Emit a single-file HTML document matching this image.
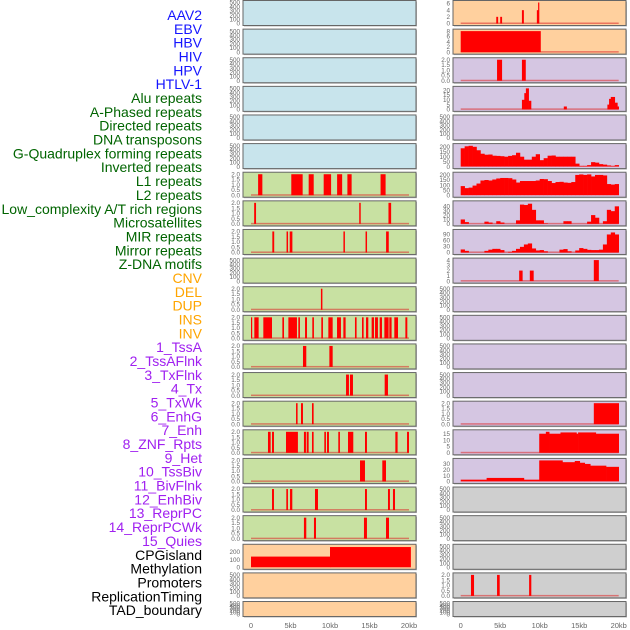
<!DOCTYPE html>
<html><head><meta charset="utf-8"><style>
html,body{margin:0;padding:0;background:#fff;}
svg{display:block;font-family:"Liberation Sans",sans-serif;}
</style></head><body>
<svg id="chart" width="630" height="630" viewBox="0 0 630 630"></svg>
<script>
// ---- Row labels ----
const labels = ["AAV2","EBV","HBV","HIV","HPV","HTLV-1","Alu repeats","A-Phased repeats","Directed repeats","DNA transposons","G-Quadruplex forming repeats","Inverted repeats","L1 repeats","L2 repeats","Low_complexity A/T rich regions","Microsatellites","MIR repeats","Mirror repeats","Z-DNA motifs","CNV","DEL","DUP","INS","INV","1_TssA","2_TssAFlnk","3_TxFlnk","4_Tx","5_TxWk","6_EnhG","7_Enh","8_ZNF_Rpts","9_Het","10_TssBiv","11_BivFlnk","12_EnhBiv","13_ReprPC","14_ReprPCWk","15_Quies","CPGisland","Methylation","Promoters","ReplicationTiming","TAD_boundary"];
const labelGroups = [6,13,5,15,5];
const groupColors = ["#1414ff","#006400","#ffa500","#a020f0","#000000"];
const xTicks = [0,5,10,15,20];
const xTickLabels = ["0","5kb","10kb","15kb","20kb"];

// ---- Left column spike tracks (kb start, kb end) ----
const L6 = [[0.9,1.4],[5.1,6.5],[7.3,7.9],[9.2,10.1],[10.9,11.5],[12.2,12.7],[16.4,17.0]];
const L7 = [[0.4,0.6],[13.7,13.85],[17.4,17.7]];
const L8 = [[2.7,2.9],[4.5,4.65],[4.9,5.2],[11.7,11.85],[14.5,14.65],[17.1,17.4]];
const L10 = [[8.85,9.0]];
const L11 = [[0,0.1],[0.42,0.93],[1.56,2.62],[3.97,4.14],[4.73,5.78],[5.99,6.16],[6.84,7.05],[7.76,7.93],[8.9,9.07],[9.79,10.3],[10.89,11.35],[11.69,11.94],[13.16,13.33],[14.05,14.22],[14.56,14.81],[15.27,15.53],[15.7,16.03],[16.29,16.54],[16.88,17.38],[17.51,17.76],[18.14,18.57],[19.54,19.75]];
const L12 = [[6.58,6.96],[9.92,10.3]];
const L13 = [[12.03,12.36],[12.53,12.87],[16.92,17.3]];
const L14 = [[5.7,5.86],[6.33,6.54],[7.72,7.89]];
const L15 = [[2.15,2.45],[2.66,2.87],[4.43,5.9],[6.7,6.92],[7.05,7.26],[7.72,7.89],[9.28,9.45],[9.62,9.83],[11.05,11.22],[12.28,12.91],[14.43,14.64],[18.27,18.52],[19.75,19.96]];
const L16 = [[13.8,14.39],[16.62,17.05]];
const L17 = [[2.66,2.87],[4.47,4.64],[4.94,5.19],[8.1,8.44],[14.43,14.64],[17.34,17.55],[17.97,18.19]];
const L18 = [[6.7,6.96],[7.97,8.19],[14.3,14.64],[17.09,17.43]];
// CPG / methylation step (start, end, value)
const L19 = [[0,10,140],[10,20.2,265]];

// ---- Right column ----
const R0 = [[4.5,4.7,2],[5.0,5.2,2],[7.75,7.96,4],[9.64,9.85,4],[9.8,9.9,6.3]];
const R1 = [[0,10.1,8]];
const R2 = [[4.6,5.2,2],[7.75,8.2,2]];
const R3 = [[7.75,8.05,10],[8.05,8.25,17],[8.25,8.6,22],[8.6,8.9,9],[13.05,13.4,3],[18.57,18.78,5],[18.78,19.0,11],[19.0,19.5,13],[19.5,19.83,7],[19.83,20,3]];
const R5 = [185,205,210,200,165,130,120,122,110,108,105,100,108,115,140,100,70,70,100,125,65,85,110,112,100,100,100,100,100,30,8,8,15,45,40,25,20,12,8,15];
const R6 = [90,70,75,95,115,145,150,145,155,165,170,170,168,155,125,140,140,140,140,145,160,158,140,120,130,132,125,122,130,200,205,200,205,185,200,200,195,110,105,110];
const R7 = [10,4,0,0,0,0,5,3,0,6,3,0,0,0,8,44,43,46,32,8,8,1,0,0,0,0,6,6,0,0,0,0,5,20,14,0,6,32,29,40];
const R8 = [15,8,0,0,0,0,8,14,18,18,12,0,3,8,18,28,40,45,20,10,12,6,0,0,0,14,17,6,0,10,22,18,13,12,12,14,40,90,100,90];
const R9 = [[7.4,7.8,2],[8.75,9.2,2],[16.85,17.45,4]];
const R14 = [[16.85,20,2]];
const R15 = [[9.94,10.78,15],[10.78,11.2,16.5],[11.2,12.63,15],[12.63,14.65,16],[14.65,14.86,15],[14.86,17.1,16],[17.1,20,15]];
const R16 = [[0,3.28,3],[3.28,8.0,6],[8.0,9.94,3],[9.94,12.88,36],[12.88,14.44,33],[14.44,15.07,35],[15.07,15.7,32],[15.7,16.4,30],[16.4,18.4,27],[18.4,20,25]];
const R20 = [[1.3,1.65],[4.6,4.9],[8.66,8.9]];

const tEmpty=[0,100,200,300,400,500], tSpike=[0,0.5,1,1.5,2];
const C={blue:"#c8e4ec",green:"#c8e1a2",orange:"#ffd09e",purple:"#d5c6e2",gray:"#cfcfcf"};

function seg(a,v){return a.map(s=>[s[0],s[1],v]);}
function bins(a){return a.map((v,k)=>[k*0.5,(k+1)*0.5,v]);}
const panels=[];
for(let r=0;r<22;r++){
  // left
  let p={col:0,row:r,ymax:500,ticks:tEmpty,segs:[],base:false};
  if(r<6)p.bg=C.blue; else if(r<19)p.bg=C.green; else p.bg=C.orange;
  const Lmap={6:L6,7:L7,8:L8,10:L10,11:L11,12:L12,13:L13,14:L14,15:L15,16:L16,17:L17,18:L18};
  if(Lmap[r]){p.ymax=2;p.ticks=tSpike;p.segs=seg(Lmap[r],2);p.base=true;}
  if(r===19){p.ymax=275;p.ticks=[0,100,200];p.segs=L19;}
  panels.push(p);
  // right
  let q={col:1,row:r,ymax:500,ticks:tEmpty,segs:[],base:false};
  if(r<2)q.bg=C.orange; else if(r<17)q.bg=C.purple; else q.bg=C.gray;
  if(r===0){q.ymax=6.3;q.ticks=[0,2,4,6];q.segs=R0;q.base=true;}
  if(r===1){q.ymax=8;q.ticks=[0,2,4,6,8];q.segs=R1;q.base=true;}
  if(r===2){q.ymax=2;q.ticks=tSpike;q.segs=R2;q.base=true;}
  if(r===3){q.ymax=22;q.ticks=[0,5,10,15,20];q.segs=R3;q.base=true;}
  if(r===5){q.ymax=212;q.ticks=[0,50,100,150,200];q.segs=bins(R5);}
  if(r===6){q.ymax=207;q.ticks=[0,50,100,150,200];q.segs=bins(R6);}
  if(r===7){q.ymax=48;q.ticks=[0,10,20,30,40];q.segs=bins(R7);q.base=true;}
  if(r===8){q.ymax=105;q.ticks=[0,30,60,90];q.segs=bins(R8);q.base=true;}
  if(r===9){q.ymax=4;q.ticks=[0,1,2,3,4];q.segs=R9;q.base=true;}
  if(r===14){q.ymax=2;q.ticks=tSpike;q.segs=R14;q.base=true;}
  if(r===15){q.ymax=16.5;q.ticks=[0,5,10,15];q.segs=R15;q.base=true;}
  if(r===16){q.ymax=36;q.ticks=[0,10,20,30];q.segs=R16;}
  if(r===20){q.ymax=2;q.ticks=tSpike;q.segs=seg(R20,2);q.base=true;}
  panels.push(q);
}

const svg=document.getElementById('chart');
const NS="http://www.w3.org/2000/svg";
function mk(tag,attrs,parent){const e=document.createElementNS(NS,tag);for(const k in attrs)e.setAttribute(k,attrs[k]);(parent||svg).appendChild(e);return e;}
const colX=[{l:243,r:416,x0:251},{l:453,r:626,x0:460.7}];
const kbPx=7.9;
function xs(c,kb){return colX[c].x0+kb*kbPx;}

// labels
let gi=0,gc=0;
labels.forEach((t,i)=>{
  while(gc>=labelGroups[gi]){gi++;gc=0;}
  gc++;
  const e=mk('text',{x:202,y:15+i*13.84+5,'text-anchor':'end','font-size':14,fill:groupColors[gi]});
  e.textContent=t;
  
  
});

panels.forEach(p=>{
  const top=p.row*28.62+0.5, h=p.row===21?15:25;
  const cx=colX[p.col];
  const g=mk('g',{});
  
  
  mk('rect',{x:cx.l+1,y:top+1,width:cx.r-cx.l,height:h,fill:'#bbb'},g);
  mk('rect',{x:cx.l,y:top,width:cx.r-cx.l,height:h,fill:p.bg,stroke:'#666','stroke-width':1},g);
  const ys=v=>top+h-2-v/p.ymax*(h-4);
  if(p.base){
    const b=mk('rect',{x:xs(p.col,0),y:ys(0)-1,width:20*kbPx,height:1.5,fill:'rgba(220,40,40,0.55)'},g);
    
    
  }
  p.segs.forEach(s=>{
    if(s[2]<=0)return;
    const x1=xs(p.col,s[0]),x2=xs(p.col,s[1]);
    const r=mk('rect',{x:x1,y:ys(s[2]),width:Math.max(1.2,x2-x1+0.3),height:ys(0)-ys(s[2]),fill:'#ff0000'},g);
    
    
  });
  p.ticks.forEach(t=>{
    const lab=p.ticks===tSpike?t.toFixed(1):String(t);
    const e=mk('text',{x:cx.l-3,y:ys(t)+2.2,'text-anchor':'end','font-size':6.3,fill:'#666'},g);
    e.textContent=lab;
    
    
  });
});

// x axes
[0,1].forEach(c=>{
  xTicks.forEach((t,i)=>{
    const e=mk('text',{x:xs(c,t),y:628,'text-anchor':'middle','font-size':7.5,fill:'#666'});
    e.textContent=xTickLabels[i];
    
    
  });
});
</script>
</body></html>
